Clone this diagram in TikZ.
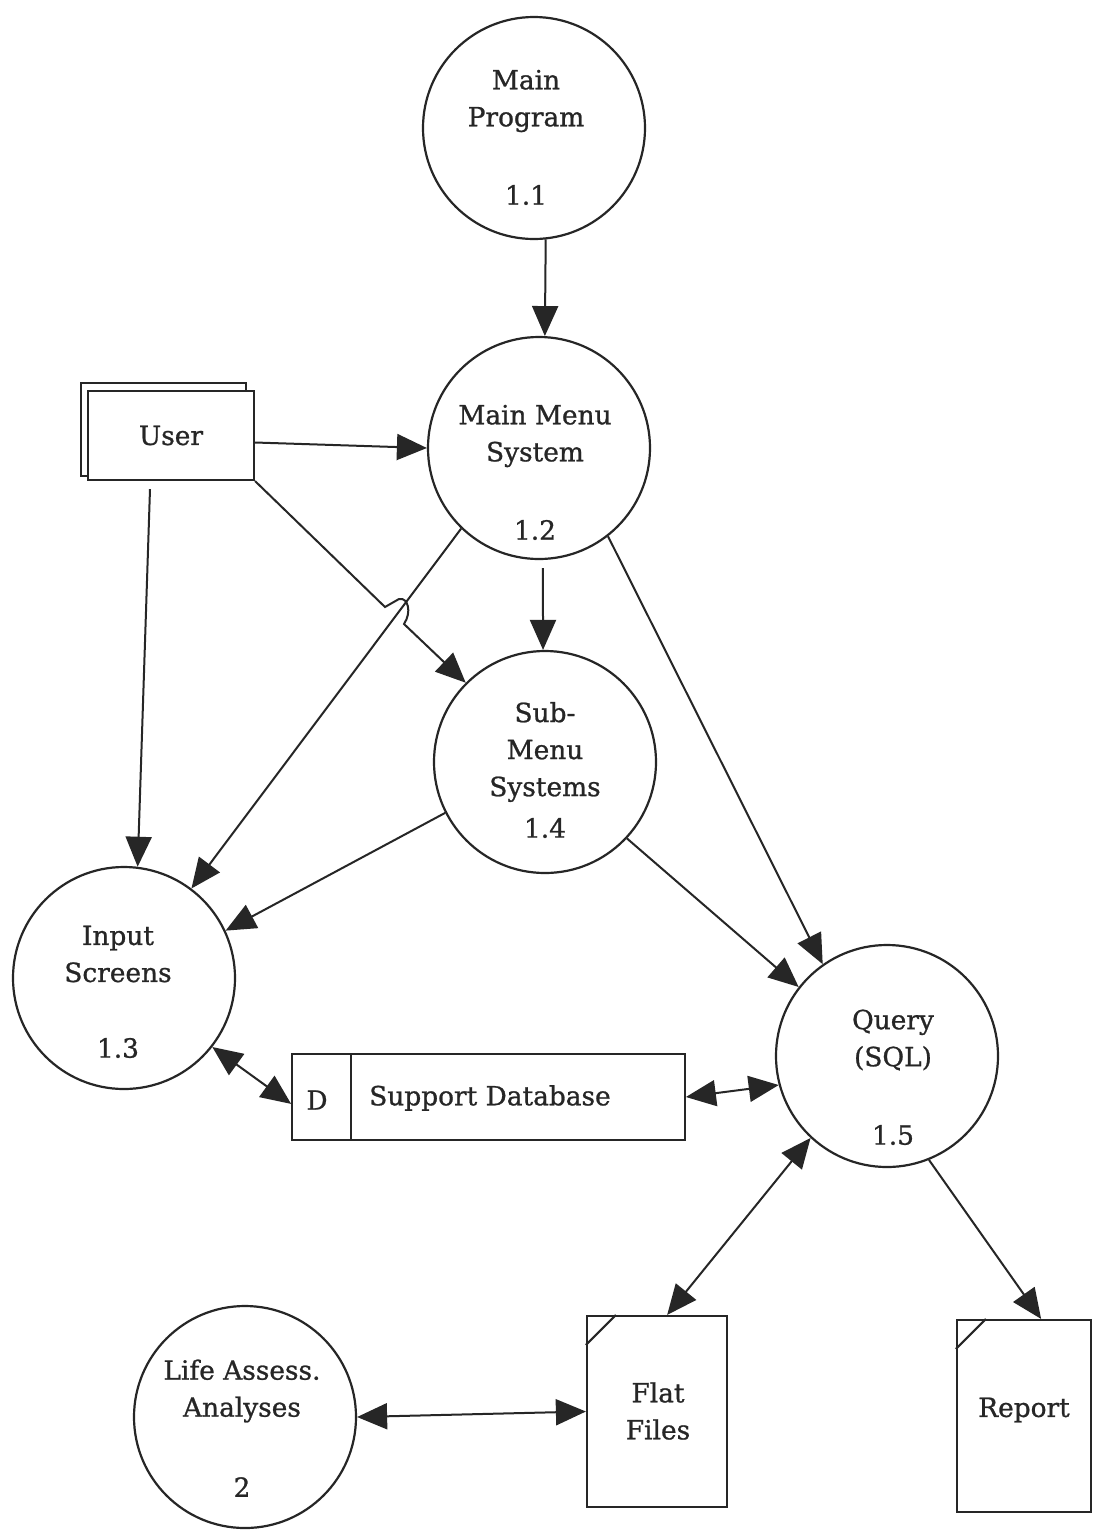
\documentclass[tikz,border=0pt]{standalone}
\usepackage{fontspec}
\setmainfont{DejaVu Serif}[FakeBold=0.9]
\usetikzlibrary{arrows.meta,calc}
\definecolor{ink}{HTML}{262626}
\begin{document}
\begin{tikzpicture}[x=0.5pt,y=-0.5pt,
  every node/.style={font=\fontsize{13.2}{18.5}\selectfont, text=ink},
  proc/.style={circle, draw=ink, line width=1.1pt, minimum size=111pt, inner sep=0pt},
  flow/.style={draw=ink, line width=1pt, -{Triangle[length=15pt,width=13pt]}},
  bothflow/.style={draw=ink, line width=1pt, {Triangle[length=15pt,width=13pt]}-{Triangle[length=15pt,width=13pt]}},
  docbox/.style={draw=ink, line width=1.1pt, fill=white, minimum width=70pt, minimum height=95.5pt, inner sep=0pt},
  fold/.style={draw=ink, line width=1.1pt},
]
% page
\fill[white] (0,0) rectangle (1093,1532);
\useasboundingbox (0,0) rectangle (1093,1532);

% processes
\node[proc] (p11) at (534,128) {};
\node[proc] (p12) at (539,448) {};
\node[proc] (p14) at (545,762) {};
\node[proc] (p13) at (124,978) {};
\node[proc] (p15) at (887,1056) {};
\node[proc] (p2)  at (245,1417) {};

\node[align=center] (t11) at (526,101) {Main\\Program};
\node (n11) at (526,195) {1.1};
\node[align=center] (t12) at (535,436) {Main Menu\\System};
\node (n12) at (535,530) {1.2};
\node[align=center] (t14) at (545,752) {Sub-\\Menu\\Systems};
\node (n14) at (545,828) {1.4};
\node[align=center] (t13) at (118,954) {Input\\Screens};
\node (n13) at (118,1048) {1.3};
\node[align=center] (t15) at (893,1040) {Query\\(SQL)};
\node (n15) at (893,1135) {1.5};
\node[align=center] (t2) at (242,1391) {Life Assess.\\Analyses};
\node (n2) at (242,1487) {2};

% external entity (double box)
\draw[ink, line width=1.1pt, fill=white] (81,383) rectangle (246,476);
\node[draw=ink, line width=1.1pt, fill=white, minimum width=83pt, minimum height=44.5pt, inner sep=0pt] (user) at (171,435.5) {User};

% data store
\node[draw=ink, line width=0.9pt, minimum width=196.5pt, minimum height=43pt, inner sep=0pt] (db) at (488.5,1097) {};
\draw[ink, line width=0.9pt] ($(db.north west)+(30pt,0pt)$) -- ($(db.south west)+(30pt,0pt)$);
\node (dl) at (317,1100) {D};
\node (dt) at (490,1098) {Support Database};

% documents
\node[docbox] (flat) at (657,1411.5) {};
\draw[fold] ($(flat.north west)+(0pt,-15pt)$) -- ($(flat.north west)+(15pt,0pt)$);
\node[align=center] (tflat) at (658,1411) {Flat\\Files};
\node[docbox, minimum width=67pt, minimum height=96pt] (rep) at (1024,1416) {};
\draw[fold] ($(rep.north west)+(0pt,-15pt)$) -- ($(rep.north west)+(15pt,0pt)$);
\node (trep) at (1024,1410) {Report};

% flows
\draw[flow] (p11.-84) -- (p12.87);
\draw[flow] ([yshift=-3.5pt]user.east) -- (p12.180);
\draw[flow] (user.south east) -- (385,607) -- (399,599)
  .. controls (408,597) and (412,612) .. (404,624) -- (p14.135);
\draw[flow] ([xshift=-10.5pt,yshift=-4pt]user.south) -- (p13.83);
\draw[flow] (p12.226) -- (p13.53);
\draw[flow, shorten <=4pt] (p12.-88) -- (p14.91);
\draw[flow] (p12.-52) -- (p15.125);
\draw[flow] (p14.207) -- (p13.25);
\draw[flow] (p14.-43) -- (p15.142);
\draw[bothflow] (p13.-38) -- (db.182);
\draw[bothflow] (db.east) -- (p15.195);
\draw[bothflow] (p15.227) -- (flat.84);
\draw[flow] (p15.-68) -- (rep.80);
\draw[bothflow] (p2.0) -- (flat.west);
\end{tikzpicture}
\end{document}
